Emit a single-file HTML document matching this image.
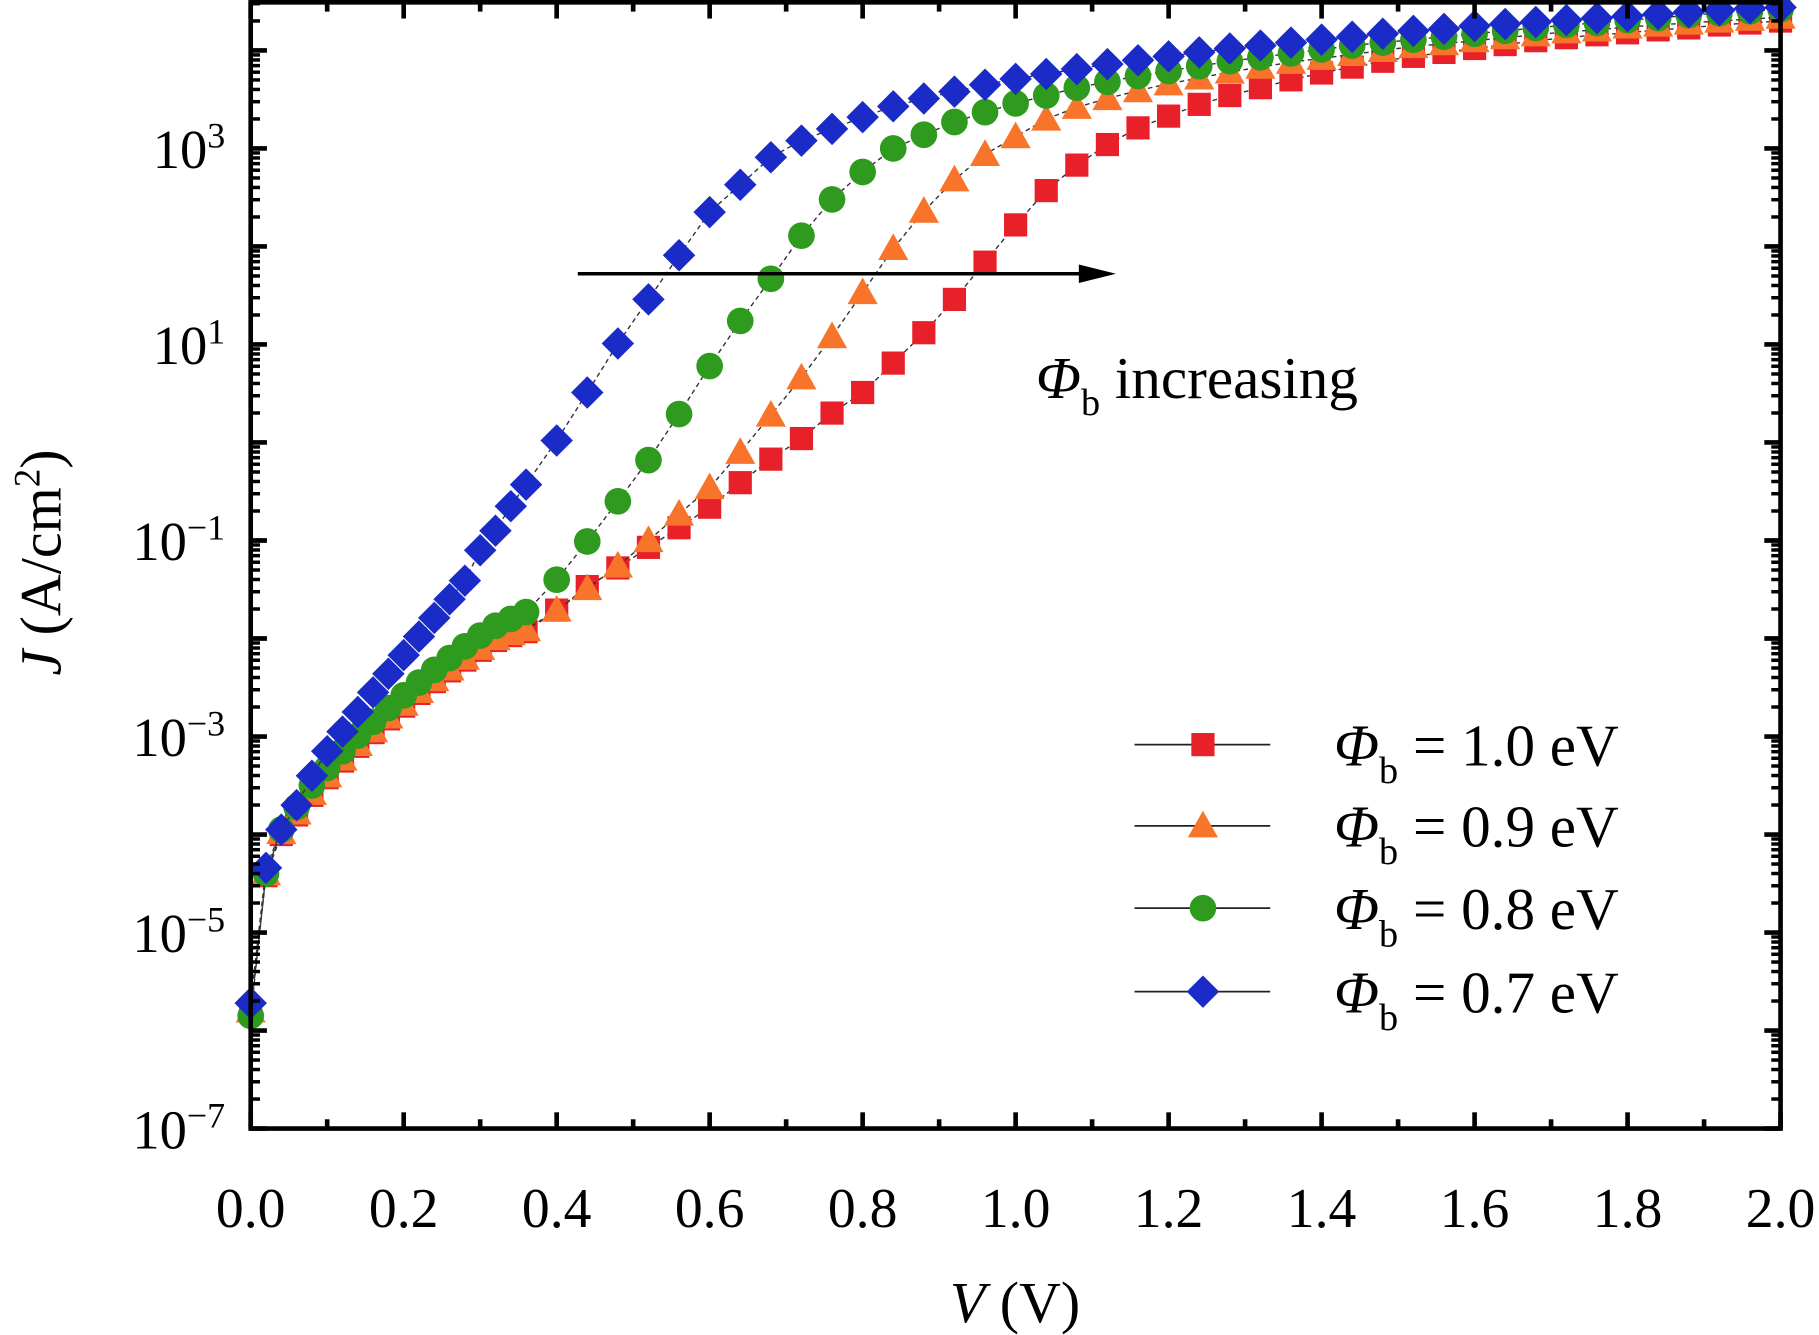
<!DOCTYPE html>
<html><head><meta charset="utf-8"><style>
html,body{margin:0;padding:0;background:#fff;}
svg{display:block;font-family:"Liberation Serif",serif;}
</style></head><body>
<svg id="chart" width="1819" height="1335" viewBox="0 0 1568 1151" xmlns="http://www.w3.org/2000/svg">
<g id="marks"></g>
<g id="axes"></g>
</svg>
<script>
const lowV = [0,0.02,0.04,0.06,0.08,0.10,0.12,0.14,0.16,0.18,0.20,0.22,0.24,0.26,0.28,0.30,0.32,0.34,0.36];
const highV = [0.40,0.44,0.48,0.52,0.56,0.60,0.64,0.68,0.72,0.76,0.80,0.84,0.88,0.92,0.96,1.00,1.04,1.08,1.12,1.16,1.20,1.24,1.28,1.32,1.36,1.40,1.44,1.48,1.52,1.56,1.60,1.64,1.68,1.72,1.76,1.80,1.84,1.88,1.92,1.96,2.00];
// log10(J) values
const redLow = [-5.8,-4.42,-4.0,-3.8,-3.6,-3.42,-3.25,-3.1,-2.96,-2.82,-2.69,-2.56,-2.44,-2.33,-2.22,-2.12,-2.02,-1.97,-1.93];
const redHigh = [-1.71,-1.47,-1.28,-1.07,-0.87,-0.66,-0.41,-0.17,0.04,0.30,0.51,0.81,1.12,1.46,1.84,2.22,2.57,2.83,3.04,3.21,3.33,3.45,3.54,3.62,3.70,3.77,3.83,3.89,3.94,3.98,4.02,4.06,4.10,4.13,4.16,4.18,4.21,4.23,4.26,4.28,4.30];
const orangeLow = [-5.8,-4.4,-3.98,-3.78,-3.58,-3.4,-3.23,-3.08,-2.94,-2.8,-2.67,-2.54,-2.42,-2.31,-2.2,-2.1,-2.0,-1.95,-1.91];
const orangeHigh = [-1.71,-1.49,-1.26,-1.0,-0.73,-0.46,-0.10,0.28,0.66,1.08,1.53,1.98,2.36,2.68,2.94,3.12,3.30,3.42,3.51,3.59,3.66,3.72,3.78,3.83,3.88,3.92,3.96,4.0,4.04,4.07,4.10,4.13,4.16,4.19,4.21,4.24,4.26,4.28,4.30,4.32,4.34];
const greenLow = [-5.85,-4.4,-3.95,-3.72,-3.5,-3.32,-3.15,-2.99,-2.85,-2.71,-2.58,-2.45,-2.32,-2.2,-2.08,-1.97,-1.87,-1.8,-1.73];
const greenHigh = [-1.40,-1.01,-0.60,-0.18,0.29,0.78,1.24,1.67,2.11,2.48,2.76,3.0,3.14,3.27,3.37,3.46,3.54,3.62,3.68,3.74,3.79,3.84,3.89,3.93,3.97,4.01,4.05,4.08,4.11,4.14,4.17,4.20,4.23,4.26,4.28,4.31,4.33,4.36,4.38,4.40,4.42];
const blueLow = [-5.72,-4.34,-3.95,-3.7,-3.4,-3.15,-2.95,-2.75,-2.55,-2.36,-2.17,-1.98,-1.79,-1.6,-1.41,-1.1,-0.9,-0.65,-0.43];
const blueHigh = [0.02,0.51,1.01,1.46,1.91,2.35,2.63,2.91,3.08,3.20,3.32,3.43,3.51,3.58,3.65,3.71,3.76,3.81,3.86,3.90,3.94,3.98,4.02,4.05,4.08,4.11,4.14,4.17,4.20,4.22,4.25,4.27,4.29,4.31,4.33,4.35,4.37,4.39,4.41,4.43,4.44];
const xTicks = [0,0.2,0.4,0.6,0.8,1.0,1.2,1.4,1.6,1.8,2.0];
const xTickLabels = ["0.0","0.2","0.4","0.6","0.8","1.0","1.2","1.4","1.6","1.8","2.0"];
const yTickExp = [-7,-5,-3,-1,1,3];
const legendLabels = ["1.0","0.9","0.8","0.7"];

const X0=216, X1=1535, YB=973, YT=2, PPD=84.5;
const xs = v => X0 + v/2.0*(X1-X0);
const ys = L => YB - (L+7)*PPD;
const NS="http://www.w3.org/2000/svg";
function mk(tag, attrs, parent){const e=document.createElementNS(NS,tag);for(const k in attrs)e.setAttribute(k,attrs[k]);parent.appendChild(e);return e;}
const marks=document.getElementById('marks'), axes=document.getElementById('axes');

function marker(type,cx,cy,color,parent){
  let e;
  if(type==='square') e=mk('rect',{x:cx-10,y:cy-10,width:20,height:20,fill:color},parent);
  else if(type==='triangle') e=mk('polygon',{points:`${cx},${cy-13} ${cx+13},${cy+10} ${cx-13},${cy+10}`,fill:color},parent);
  else if(type==='circle') e=mk('circle',{cx:cx,cy:cy,r:11.5,fill:color},parent);
  else e=mk('polygon',{points:`${cx},${cy-14} ${cx+14},${cy} ${cx},${cy+14} ${cx-14},${cy}`,fill:color},parent);
  return e;
}
const series=[
  {name:'phi-1-0',type:'square',color:'#e8202a',low:redLow,high:redHigh},
  {name:'phi-0-9',type:'triangle',color:'#f7742a',low:orangeLow,high:orangeHigh},
  {name:'phi-0-8',type:'circle',color:'#2e9a1e',low:greenLow,high:greenHigh},
  {name:'phi-0-7',type:'diamond',color:'#1a2bc8',low:blueLow,high:blueHigh}
];
series.forEach(s=>{
  const g=mk('g',{},marks);
  
  
  const V=lowV.concat(highV), L=s.low.concat(s.high);
  const pts=V.map((v,i)=>xs(v).toFixed(1)+','+ys(L[i]).toFixed(1)).join(' ');
  const pl=mk('polyline',{points:pts,fill:'none',stroke:'#333','stroke-width':1.2,'stroke-dasharray':'4 3'},g);
  
  
  V.forEach((v,i)=>{
    const m=marker(s.type,xs(v),ys(L[i]),s.color,g);
    
    
  });
});

const fr=mk('rect',{x:X0,y:YT,width:X1-X0,height:YB-YT,fill:'none',stroke:'#000','stroke-width':4},axes);


for(let k=0;k<=20;k++){
  const v=k*0.1, x=xs(v), len=(k%2===0)?14:8;
  mk('line',{x1:x,y1:YB,x2:x,y2:YB-len,stroke:'#000','stroke-width':4},axes);
  mk('line',{x1:x,y1:YT,x2:x,y2:YT+len,stroke:'#000','stroke-width':4},axes);
}
xTicks.forEach((v,i)=>{
  const t=mk('text',{x:xs(v),y:1058,'text-anchor':'middle','font-size':48},axes);
  t.textContent=xTickLabels[i];
  
  
});
for(let d=-7;d<=4;d++){
  for(let m=1;m<=9;m++){
    const L=d+Math.log10(m); if(L>4.49) continue;
    const y=ys(L), len=(m===1)?14:8;
    mk('line',{x1:X0,y1:y,x2:X0+len,y2:y,stroke:'#000','stroke-width':(m===1)?4:3},axes);
    mk('line',{x1:X1,y1:y,x2:X1-len,y2:y,stroke:'#000','stroke-width':(m===1)?4:3},axes);
  }
}
yTickExp.forEach(e=>{
  const t=mk('text',{x:194,y:ys(e)+17,'text-anchor':'end','font-size':47},axes);
  t.innerHTML='10<tspan dy="-18" font-size="31">'+(e<0?'\u2212'+(-e):e)+'</tspan>';
  
  
});
const xt=mk('text',{x:875,y:1140,'text-anchor':'middle','font-size':50},axes);
xt.innerHTML='<tspan font-style="italic">V</tspan> (V)';


const yt=mk('text',{x:0,y:0,'text-anchor':'middle','font-size':50,transform:'translate(52,485) rotate(-90)'},axes);
yt.innerHTML='<tspan font-style="italic">J</tspan> (A/cm<tspan dy="-18" font-size="32">2</tspan><tspan dy="18">)</tspan>';


const ar=mk('g',{},axes);


mk('line',{x1:498,y1:236,x2:940,y2:236,stroke:'#000','stroke-width':3},ar);
mk('polygon',{points:'962,236 930,228 930,244',fill:'#000'},ar);
const at=mk('text',{x:893,y:343,'font-size':51},axes);
at.innerHTML='<tspan font-style="italic">Φ</tspan><tspan dy="15" font-size="33">b</tspan><tspan dy="-15"> increasing</tspan>';


const legY=[642,712,783,855];
series.forEach((s,i)=>{
  const g=mk('g',{},axes);
  
  
  mk('line',{x1:978,y1:legY[i],x2:1095,y2:legY[i],stroke:'#222','stroke-width':1.5},g);
  marker(s.type,1037,legY[i],s.color,g);
  const t=mk('text',{x:1150,y:legY[i]+18,'font-size':51},g);
  t.innerHTML='<tspan font-style="italic">Φ</tspan><tspan dy="15" font-size="33">b</tspan><tspan dy="-15"> = '+legendLabels[i]+' eV</tspan>';
});
</script>
</body></html>
